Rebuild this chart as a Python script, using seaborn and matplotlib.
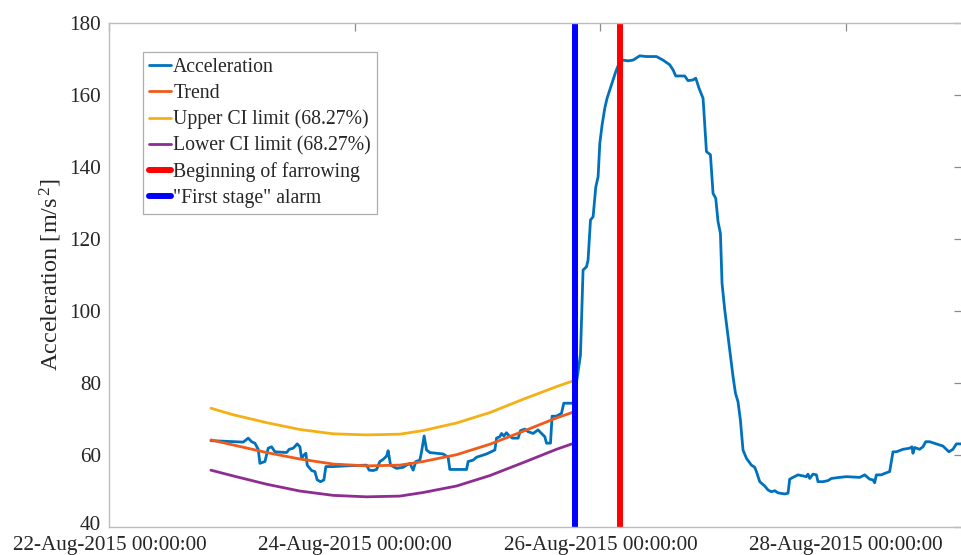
import matplotlib
matplotlib.use("Agg")
import matplotlib.pyplot as plt
import matplotlib.dates as mdates
import matplotlib.transforms as mtransforms
import numpy as np
import pandas as pd
import seaborn as sns

# ---- data ---------------------------------------------------------------
start = pd.Timestamp("2015-08-22 00:00:00")

# acceleration record: hours since 22-Aug-2015 00:00 and value [m/s^2]
acc_hours = [
    19.86, 26.17, 27.14, 27.81, 28.45, 29.10, 29.43, 30.41, 31.05, 31.72,
    32.36, 34.65, 35.16, 35.94, 36.72, 37.25, 37.58, 38.03, 38.42, 38.68,
    39.54, 40.18, 40.63, 41.29, 41.94, 42.33, 43.76, 46.38, 50.28, 50.79,
    51.57, 52.24, 52.88, 53.53, 54.19, 54.50, 54.97, 56.15, 57.44, 58.10,
    58.75, 59.39, 59.92, 60.70, 61.03, 61.54, 62.01, 62.65, 65.25, 66.23,
    66.56, 69.83, 70.14, 71.12, 71.78, 73.73, 75.36, 75.69, 76.33, 76.67,
    77.12, 77.64, 78.15, 78.82, 79.91, 80.38, 81.22, 81.86, 82.84, 83.82,
    84.48, 85.13, 85.46, 86.24, 86.55, 87.41, 88.39, 88.84, 90.66, 91.44,
    92.10, 92.61, 93.28, 93.59, 94.06, 94.57, 95.10, 95.55, 95.88, 96.33,
    96.85, 97.30, 97.83, 98.36, 99.00, 99.65, 100.43, 101.41, 102.38, 103.69,
    105.00, 106.96, 108.25, 109.56, 110.20, 110.73, 112.49, 113.13, 114.11, 114.64,
    115.28, 116.07, 116.73, 117.51, 118.02, 118.55, 119.00, 119.46, 119.78, 120.31,
    120.95, 121.93, 122.40, 122.90, 123.37, 123.88, 124.55, 125.52, 126.17, 126.50,
    127.15, 128.12, 128.77, 129.43, 130.08, 130.72, 132.03, 132.68, 133.01, 133.65,
    134.63, 136.27, 136.58, 136.92, 137.56, 138.23, 138.54, 139.52, 140.49, 141.16,
    142.78, 144.09, 146.69, 147.67, 148.64, 149.29, 149.62, 149.95, 150.93, 151.57,
    152.55, 153.20, 153.86, 155.15, 156.46, 156.91, 157.11, 157.44, 158.41, 159.06,
    159.59, 160.37, 161.68, 162.97, 164.14, 164.92, 165.59, 166.56,
]
acc_values = [
    63.9, 63.5, 64.6, 63.6, 63.2, 61.5, 57.6, 58.1, 61.8, 62.2,
    60.8, 60.6, 61.5, 61.8, 63.0, 62.2, 59.0, 59.9, 60.4, 57.1,
    55.6, 55.3, 53.0, 52.5, 53.0, 56.7, 56.7, 56.9, 57.1, 55.7,
    55.6, 55.9, 58.1, 58.7, 59.6, 61.1, 57.1, 56.2, 56.5, 57.1,
    57.6, 55.7, 58.1, 58.5, 60.8, 65.2, 61.3, 60.6, 60.2, 59.3,
    55.9, 55.9, 58.1, 58.5, 59.3, 60.2, 61.3, 64.6, 65.0, 65.9,
    65.2, 66.1, 65.2, 64.6, 64.6, 66.7, 67.1, 66.4, 65.9, 66.9,
    65.9, 65.0, 63.2, 63.2, 70.7, 70.7, 71.5, 74.3, 74.3, 81.2,
    87.7, 111.3, 112.2, 114.1, 125.2, 126.1, 134.4, 137.2, 146.5, 151.6,
    156.2, 159.0, 161.3, 163.6, 166.4, 168.7, 169.6, 169.4, 169.6, 170.8,
    170.6, 170.6, 169.6, 168.3, 166.9, 165.2, 165.2, 163.9, 164.1, 164.6,
    161.8, 159.0, 144.2, 143.3, 132.6, 131.2, 124.7, 121.5, 107.6, 100.2,
    92.8, 81.7, 77.1, 74.7, 69.6, 61.3, 59.0, 57.1, 56.5, 55.3,
    52.5, 51.3, 50.2, 49.7, 50.0, 49.4, 49.1, 49.3, 53.2, 53.7,
    54.4, 53.9, 54.6, 53.4, 54.6, 54.4, 52.5, 52.5, 52.8, 53.4,
    53.7, 53.9, 53.7, 54.4, 53.2, 53.0, 52.2, 54.4, 54.4, 54.8,
    55.3, 60.8, 60.8, 61.5, 61.8, 62.2, 60.4, 62.0, 61.5, 62.2,
    63.6, 63.6, 63.0, 62.4, 60.8, 61.5, 63.0, 63.0,
]

# fitted trend and its 68.27 % confidence band
trend_hours = [19.86, 24.21, 30.74, 37.25, 43.76, 50.28, 56.79,
               61.34, 67.87, 74.38, 80.89, 87.41, 91.05]
trend_values = [64.1, 62.7, 60.6, 58.8, 57.4, 56.9, 57.1,
                58.1, 60.0, 62.9, 66.5, 70.2, 72.0]
upper_values = [72.9, 71.1, 68.9, 67.0, 65.8, 65.5, 65.7,
                66.7, 68.8, 71.7, 75.4, 78.9, 80.7]
lower_values = [55.7, 54.1, 51.8, 49.9, 48.7, 48.3, 48.5,
                49.5, 51.3, 54.2, 57.8, 61.5, 63.3]

# event markers
farrowing_start = "2015-08-26 03:55:00"
alarm_time = "2015-08-25 19:03:00"

x_ticks = ["2015-08-22", "2015-08-24", "2015-08-26", "2015-08-28"]
y_ticks = [40, 60, 80, 100, 120, 140, 160, 180]

# ---- tables ---------------------------------------------------------------
acc = pd.DataFrame({
    "time": start + pd.to_timedelta(acc_hours, unit="h"),
    "value": acc_values,
})
band = pd.DataFrame({
    "time": start + pd.to_timedelta(trend_hours, unit="h"),
    "trend": trend_values,
    "upper": upper_values,
    "lower": lower_values,
})

# ---- figure ---------------------------------------------------------------
sns.set_theme(style="white")
plt.rcParams["font.family"] = ["Liberation Serif", "DejaVu Serif"]
plt.rcParams["mathtext.fontset"] = "custom"
plt.rcParams["mathtext.rm"] = "Liberation Serif"
plt.rcParams["mathtext.it"] = "Liberation Serif:italic"

fig = plt.figure(figsize=(9.62, 5.55), dpi=100)
ax = fig.add_axes([0.1137, 0.051, 0.8858, 0.9081])

lw = 2.0
sns.lineplot(data=acc, x="time", y="value", ax=ax, color="#0072BD",
             linewidth=lw, label="Acceleration", estimator=None, sort=False)
sns.lineplot(data=band, x="time", y="trend", ax=ax, color="#F05A1A",
             linewidth=lw, label="Trend", estimator=None)
sns.lineplot(data=band, x="time", y="upper", ax=ax, color="#F5B016",
             linewidth=lw, label="Upper CI limit (68.27%)", estimator=None)
sns.lineplot(data=band, x="time", y="lower", ax=ax, color="#8E2D91",
             linewidth=lw, label="Lower CI limit (68.27%)", estimator=None)
ax.axvline(pd.Timestamp(farrowing_start), color="#FF0000", linewidth=4.3,
           label="Beginning of farrowing")
ax.axvline(pd.Timestamp(alarm_time), color="#0000FF", linewidth=4.3,
           label='"First stage" alarm')

# ---- axes styling -----------------------------------------------------------
ax.set_xlim(start, start + pd.Timedelta(hours=166.6))
ax.set_ylim(40, 180)
ax.set_xticks([pd.Timestamp(t) for t in x_ticks])
ax.xaxis.set_major_formatter(mdates.DateFormatter("%d-%b-%Y %H:%M:%S"))
ax.set_yticks(y_ticks)

ax.set_xlabel("")
ax.set_ylabel("Acceleration [m/s$^{\\,2}$]", fontsize=17.5, color="#262626",
              labelpad=4)

for side in ["left", "right", "top", "bottom"]:
    ax.spines[side].set_visible(True)
    ax.spines[side].set_color("#BDBDBD")
    ax.spines[side].set_linewidth(1.0)

ax.tick_params(axis="both", which="major", direction="in", length=6,
               width=0.9, color="#8C8C8C", labelsize=15.2,
               labelcolor="#262626", top=True, right=True, pad=6)
ax.tick_params(axis="x", pad=7)

# nudge the lowest y label up a few points so it clears the first date label
lowest = ax.yaxis.get_major_ticks()[0].label1
lowest.set_transform(lowest.get_transform()
                     + mtransforms.ScaledTranslation(0, 2.5 / 72,
                                                     fig.dpi_scale_trans))

leg = ax.legend(loc="upper left", bbox_to_anchor=(0.039, 0.941),
                fontsize=14.2, frameon=True, fancybox=False,
                handlelength=1.15, handletextpad=0.1, borderpad=0.3,
                labelspacing=0.34, borderaxespad=0.0)
leg.get_frame().set_edgecolor("#9A9A9A")
leg.get_frame().set_linewidth(0.9)
for text in leg.get_texts():
    text.set_color("#262626")

fig.savefig("out.png", dpi=100)
